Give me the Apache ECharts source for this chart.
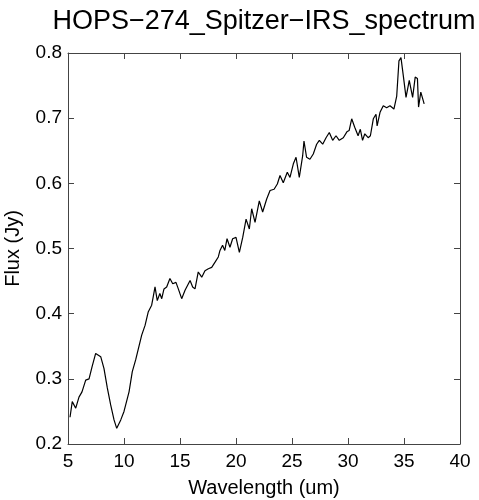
<!DOCTYPE html>
<html>
<head>
    <meta charset="utf-8">
    <script src="https://cdn.jsdelivr.net/npm/echarts@6/dist/echarts.min.js" type="text/javascript"></script>
    <style>
        html, body { margin: 0; padding: 0; background: #fff; }
    </style>
</head>
<body>
    <div id="chart" style="width:479px;height:500px"></div>
    <script type="text/javascript">
    // wavelength (um) and flux (Jy)
    var wavelength = [
        5.18, 5.38, 5.69, 5.98, 6.25, 6.58, 6.88, 7.14, 7.47, 7.62,
        7.92, 8.21, 8.51, 8.81, 9.11, 9.35, 9.71, 10.0, 10.45, 10.74,
        11.04, 11.28, 11.58, 11.88, 12.17, 12.47, 12.6, 12.77, 12.97, 13.2,
        13.37, 13.57, 13.81, 14.1, 14.35, 14.64, 14.85, 15.15, 15.45, 15.9,
        16.13, 16.34, 16.63, 16.94, 17.23, 17.53, 17.83, 18.13, 18.42, 18.57,
        18.8, 19.0, 19.2, 19.46, 19.7, 20.0, 20.3, 20.6, 20.9, 21.19,
        21.4, 21.7, 22.08, 22.38, 22.74, 23.04, 23.4, 23.69, 23.93, 24.22,
        24.58, 24.82, 25.12, 25.36, 25.65, 25.95, 26.07, 26.3, 26.6, 26.9,
        27.2, 27.44, 27.74, 28.04, 28.33, 28.63, 28.93, 29.22, 29.58, 29.9,
        30.1, 30.33, 30.6, 30.9, 31.1, 31.3, 31.5, 31.8, 32.0, 32.26,
        32.5, 32.6, 32.86, 33.15, 33.45, 33.75, 34.1, 34.35, 34.55, 34.73,
        34.94, 35.18, 35.47, 35.77, 36.0, 36.2, 36.3, 36.5, 36.8
    ];
    var flux = [
        0.241, 0.265, 0.255, 0.272, 0.28, 0.298, 0.30, 0.318, 0.339, 0.341,
        0.334, 0.316, 0.286, 0.26, 0.237, 0.224, 0.237, 0.25, 0.28, 0.311,
        0.329, 0.346, 0.367, 0.382, 0.403, 0.413, 0.425, 0.441, 0.42, 0.431,
        0.423, 0.438, 0.441, 0.454, 0.446, 0.448, 0.438, 0.423, 0.436, 0.451,
        0.441, 0.438, 0.464, 0.456, 0.466, 0.469, 0.471, 0.479, 0.487, 0.497,
        0.505, 0.497, 0.515, 0.502, 0.515, 0.517, 0.494, 0.517, 0.545, 0.53,
        0.561, 0.54, 0.573, 0.556, 0.576, 0.589, 0.591, 0.599, 0.612, 0.601,
        0.617, 0.609, 0.63, 0.64, 0.609, 0.642, 0.665, 0.64, 0.637, 0.645,
        0.66, 0.666, 0.66, 0.67, 0.678, 0.666, 0.673, 0.666, 0.67, 0.679,
        0.681, 0.699, 0.686, 0.673, 0.683, 0.666, 0.676, 0.67, 0.673, 0.699,
        0.706, 0.688, 0.709, 0.719, 0.716, 0.719, 0.714, 0.734, 0.788, 0.793,
        0.765, 0.732, 0.758, 0.732, 0.763, 0.761, 0.717, 0.74, 0.722
    ];

    var font = '"Liberation Sans", Arial, sans-serif';
    var frameColor = '#444';

    var points = wavelength.map(function (w, i) { return [w, flux[i]]; });

    var myChart = echarts.init(document.getElementById('chart'));
    myChart.setOption({
        backgroundColor: '#fff',
        animation: false,
        title: {
            text: 'HOPS\u2212274_Spitzer\u2212IRS_spectrum',
            left: 259,
            textAlign: 'center',
            top: 3,
            textStyle: { fontFamily: font, fontSize: 27, fontWeight: 'normal', color: '#000' }
        },
        grid: { left: 68, right: 19, top: 53, bottom: 56, outerBoundsMode: 'none', containLabel: false },
        xAxis: [{
            type: 'value',
            min: 5, max: 40, interval: 5,
            name: 'Wavelength (um)',
            nameLocation: 'middle',
            nameGap: 34,
            nameTextStyle: { fontFamily: font, fontSize: 20, color: '#000' },
            axisLine: { show: true, lineStyle: { color: frameColor, width: 1 } },
            axisTick: { show: true, inside: true, length: 6, lineStyle: { color: frameColor } },
            axisLabel: { fontFamily: font, fontSize: 19, color: '#000', margin: 8 },
            splitLine: { show: false }
        }, {
            type: 'value',
            position: 'top',
            min: 5, max: 40, interval: 5,
            axisLine: { show: true, lineStyle: { color: frameColor, width: 1 } },
            axisTick: { show: true, inside: true, length: 6, lineStyle: { color: frameColor } },
            axisLabel: { show: false },
            splitLine: { show: false }
        }],
        yAxis: [{
            type: 'value',
            min: 0.2, max: 0.8, interval: 0.1,
            name: 'Flux (Jy)',
            nameLocation: 'middle',
            nameGap: 45,
            nameTextStyle: { fontFamily: font, fontSize: 20, color: '#000' },
            axisLine: { show: true, lineStyle: { color: frameColor, width: 1 } },
            axisTick: { show: true, inside: true, length: 6, lineStyle: { color: frameColor } },
            axisLabel: {
                fontFamily: font, fontSize: 19, color: '#000', margin: 6,
                formatter: function (v) { return v.toFixed(1); }
            },
            splitLine: { show: false }
        }, {
            type: 'value',
            position: 'right',
            min: 0.2, max: 0.8, interval: 0.1,
            axisLine: { show: true, lineStyle: { color: frameColor, width: 1 } },
            axisTick: { show: true, inside: true, length: 6, lineStyle: { color: frameColor } },
            axisLabel: { show: false },
            splitLine: { show: false }
        }],
        series: [{
            type: 'line',
            xAxisIndex: 0,
            yAxisIndex: 0,
            data: points,
            showSymbol: false,
            lineStyle: { color: '#000', width: 1.2 }
        }]
    });
    </script>
</body>
</html>
